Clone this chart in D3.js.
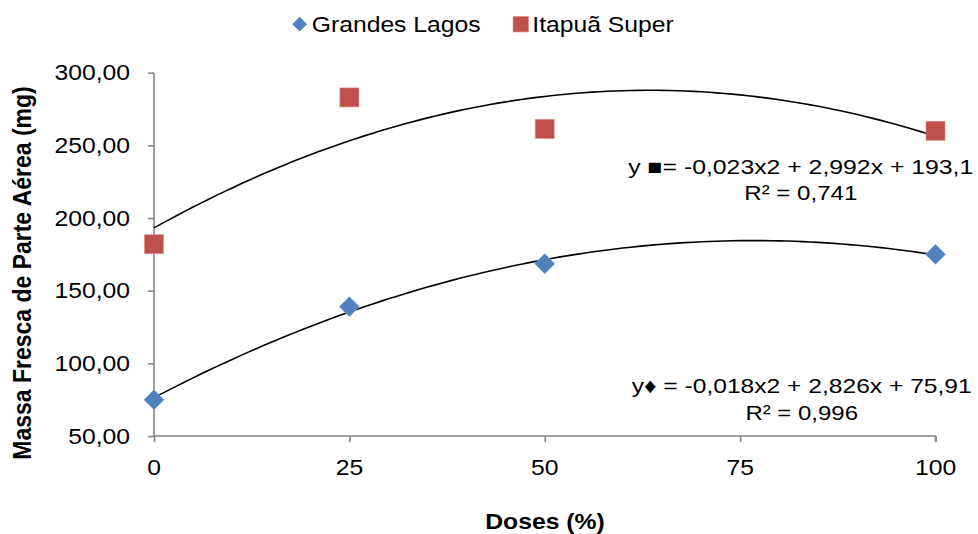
<!DOCTYPE html>
<html>
<head>
<meta charset="utf-8">
<script src="https://cdn.jsdelivr.net/npm/d3@7/dist/d3.min.js"></script>
<style>
  html, body { margin: 0; padding: 0; background: #fff; }
  text { font-family: "Liberation Sans", Arial, sans-serif; fill: #000; }
</style>
</head>
<body>
<svg id="chart" width="978" height="534"></svg>
<script>
// ---- data ----
const doses = [0, 25, 50, 100];
const grandesLagos = [75, 139, 168.6, 175];
const itapuaSuper = [182, 283, 261.3, 260];
const seriesNames = ["Grandes Lagos", "Itapuã Super"];
const xTicks = [0, 25, 50, 75, 100];
const yTicks = [50, 100, 150, 200, 250, 300];
const eqItapua = ["y \u25A0= -0,023x2 + 2,992x + 193,1", "R\u00B2 = 0,741"];
const eqGrandes = ["y\u2666 = -0,018x2 + 2,826x + 75,91", "R\u00B2 = 0,996"];
const xTitle = "Doses (%)";
const yTitle = "Massa Fresca de Parte Aérea (mg)";

const svg = d3.select("#chart");
const x = d3.scaleLinear().domain([0, 100]).range([154, 935.5]);
const y = d3.scaleLinear().domain([50, 300]).range([436, 72.7]);
const AXIS = "#868686";
const BLUE = "#4F81BD", RED = "#C0504D";
const SX = 1.15, FS = 21.5;

function stext(px, py, str, anchor, opts = {}) {
  const t = svg.append("text")
    .attr("transform", `translate(${px},${py}) scale(${opts.sx || SX},1)`)
    .attr("text-anchor", anchor)
    .style("font-size", (opts.fs || FS) + "px")
    .style("font-weight", opts.bold ? "bold" : "normal")
    .text(str);
  return t;
}

// ---- least-squares quadratic fit (Excel polynomial trendline) ----
function polyFit(xs, ys) {
  let S = [0,0,0,0,0], T = [0,0,0];
  xs.forEach((xv, i) => {
    for (let k = 0; k < 5; k++) S[k] += Math.pow(xv, k);
    for (let k = 0; k < 3; k++) T[k] += Math.pow(xv, k) * ys[i];
  });
  const A = [[S[0],S[1],S[2],T[0]],[S[1],S[2],S[3],T[1]],[S[2],S[3],S[4],T[2]]];
  for (let i = 0; i < 3; i++) {
    for (let j = i + 1; j < 3; j++) {
      const f = A[j][i] / A[i][i];
      for (let k = i; k < 4; k++) A[j][k] -= f * A[i][k];
    }
  }
  const c = [0,0,0];
  for (let i = 2; i >= 0; i--) {
    let s = A[i][3];
    for (let k = i + 1; k < 3; k++) s -= A[i][k] * c[k];
    c[i] = s / A[i][i];
  }
  return xv => c[0] + c[1] * xv + c[2] * xv * xv;
}

// ---- axes ----
const yAxis = svg.append("g").attr("transform", `translate(${x(0)},0)`)
  .call(d3.axisLeft(y).tickValues(yTicks).tickSize(6).tickFormat(""));
const xAxis = svg.append("g").attr("transform", `translate(0,${y(50)})`)
  .call(d3.axisBottom(x).tickValues(xTicks).tickSize(6).tickFormat(""));
[xAxis, yAxis].forEach(g => {
  g.selectAll("path, line").attr("stroke", AXIS).attr("stroke-width", 1.6);
  g.select("path.domain").attr("d", g === xAxis
    ? `M${x(0)},0H${x(100)}V6` : `M0,${y(300)}V${y(50)}`);
});

yTicks.forEach(v => {
  stext(130, y(v) + 7.7, d3.format(".2f")(v).replace(".", ","), "end");
});
xTicks.forEach(v => {
  stext(x(v), 475, String(v), "middle");
});

// axis titles
stext(545, 529, xTitle, "middle", { bold: true, sx: 1.15 });
svg.append("text")
  .attr("transform", `translate(31,${(83 + 463) / 2}) rotate(-90) scale(1,1.15)`)
  .attr("text-anchor", "middle")
  .style("font-size", "23px").style("font-weight", "bold")
  .text(yTitle);

// ---- trendlines ----
const line = d3.line().x(d => x(d[0])).y(d => y(d[1]));
[[grandesLagos], [itapuaSuper]].forEach(([vals]) => {
  const f = polyFit(doses, vals);
  const pts = d3.range(0, 100.01, 1).map(xv => [xv, f(xv)]);
  svg.append("path").attr("d", line(pts))
    .attr("fill", "none").attr("stroke", "#000").attr("stroke-width", 1.6);
});

// ---- markers ----
const sq = d3.symbol().type(d3.symbolSquare);
svg.append("g").selectAll("path").data(doses.map((d, i) => [d, itapuaSuper[i]]))
  .join("path")
  .attr("d", sq.size(361)())
  .attr("transform", d => `translate(${x(d[0])},${y(d[1])})`)
  .attr("fill", RED).attr("stroke", "#D88683").attr("stroke-width", 0.6);
svg.append("g").selectAll("path").data(doses.map((d, i) => [d, grandesLagos[i]]))
  .join("path")
  .attr("d", sq.size(200)())
  .attr("transform", d => `translate(${x(d[0])},${y(d[1])}) rotate(45)`)
  .attr("fill", BLUE).attr("stroke", "#7FA3D0").attr("stroke-width", 0.6);

// ---- equations ----
function eq(lines, cx, b1, b2, w1, w2) {
  [[lines[0], b1, w1], [lines[1], b2, w2]].forEach(([s, b, w]) => {
    svg.append("text").attr("x", cx).attr("y", b)
      .attr("text-anchor", "middle")
      .attr("textLength", w).attr("lengthAdjust", "spacingAndGlyphs")
      .style("font-size", "21px").text(s);
  });
}
eq(eqItapua, 800.8, 173.5, 200, 345, 113);
eq(eqGrandes, 801.7, 393, 419.5, 340, 112.6);

// ---- legend ----
svg.append("path").attr("d", sq.size(110)())
  .attr("transform", "translate(299.7,24.2) rotate(45)").attr("fill", BLUE);
stext(311.7, 32.3, seriesNames[0], "start");
svg.append("path").attr("d", sq.size(240)())
  .attr("transform", "translate(520.8,24.2)").attr("fill", RED)
  .attr("stroke", "#D88683").attr("stroke-width", 0.6);
stext(532.3, 32.3, seriesNames[1], "start");
</script>
</body>
</html>
